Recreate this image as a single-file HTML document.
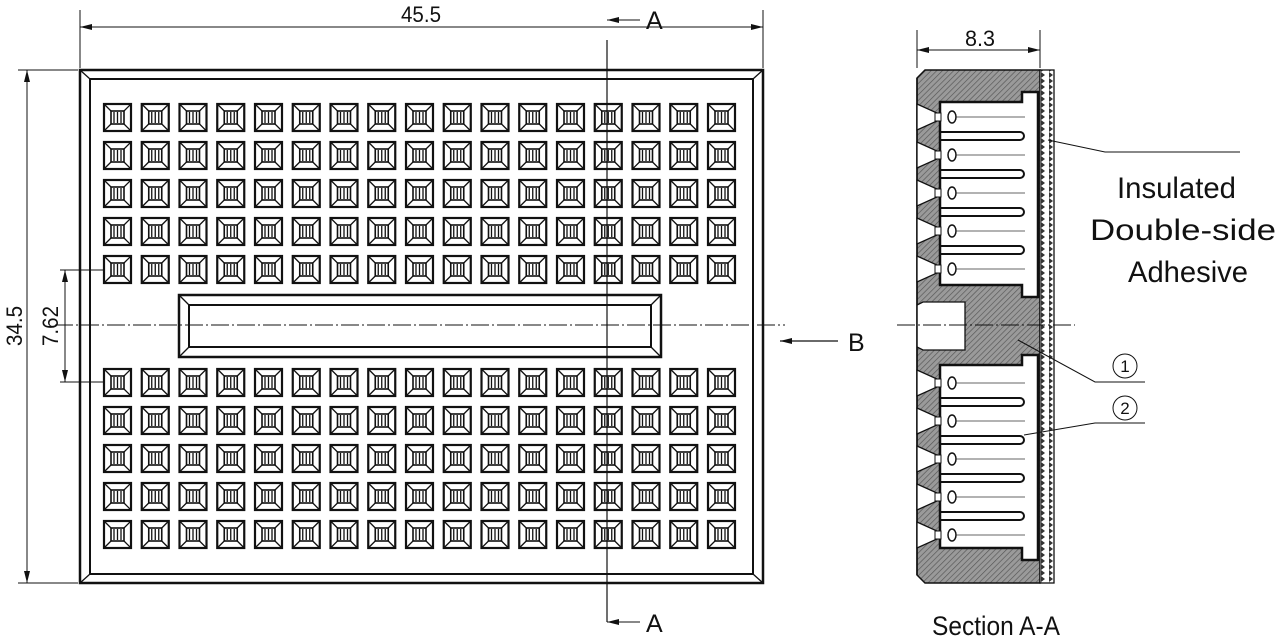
<!DOCTYPE html>
<html><head><meta charset="utf-8"><style>
html,body{margin:0;padding:0;background:#fff}
svg{display:block}
text{font-family:"Liberation Sans",sans-serif;fill:#111}
</style></head><body>
<svg width="1280" height="644" viewBox="0 0 1280 644" xmlns="http://www.w3.org/2000/svg" xmlns:xlink="http://www.w3.org/1999/xlink">
<defs>
<pattern id="h" width="4" height="4" patternUnits="userSpaceOnUse" patternTransform="rotate(45)">
<rect width="4" height="4" fill="#9a9a9a"/><line x1="0" y1="0" x2="0" y2="4" stroke="#555" stroke-width="1.3"/>
</pattern>
<pattern id="ad" width="8" height="6" patternUnits="userSpaceOnUse">
<rect width="8" height="6" fill="#fff"/><path d="M1 0 L5 3 L1 6Z" fill="#333"/>
</pattern>
<g id="hole" fill="none" stroke="#111">
<rect x="0" y="0" width="27" height="27" stroke-width="2.2"/>
<rect x="7" y="7" width="13" height="13" stroke-width="1.6"/>
<path d="M0 0L7 7M27 0L20 7M0 27L7 20M27 27L20 20" stroke-width="1.3"/>
<path d="M10 8V19M13.5 8V19M17 8V19" stroke-width="1.3"/>
</g>
<g id="row">
<use xlink:href="#hole" x="104"/><use xlink:href="#hole" x="141.75"/><use xlink:href="#hole" x="179.5"/><use xlink:href="#hole" x="217.25"/><use xlink:href="#hole" x="255"/><use xlink:href="#hole" x="292.75"/><use xlink:href="#hole" x="330.5"/><use xlink:href="#hole" x="368.25"/><use xlink:href="#hole" x="406"/><use xlink:href="#hole" x="443.75"/><use xlink:href="#hole" x="481.5"/><use xlink:href="#hole" x="519.25"/><use xlink:href="#hole" x="557"/><use xlink:href="#hole" x="594.75"/><use xlink:href="#hole" x="632.5"/><use xlink:href="#hole" x="670.25"/><use xlink:href="#hole" x="708"/>
</g>
<g id="cell">
<path d="M917 -13L937 -4V4L917 13Z" fill="#fff" stroke="#111" stroke-width="1.3"/>
<rect x="935" y="-4" width="6" height="8" fill="#fff" stroke="#111" stroke-width="1"/>
<ellipse cx="952" cy="0" rx="4" ry="6" fill="none" stroke="#111" stroke-width="1.5"/>
<path d="M956 0H1025" stroke="#333" stroke-width="0.8"/>
</g>
<g id="spr"><path d="M941 15H1020A4 4 0 0 1 1020 23H941" fill="none" stroke="#111" stroke-width="2"/></g>
<marker id="ar" markerWidth="12" markerHeight="6" refX="12" refY="3" orient="auto" markerUnits="userSpaceOnUse"><path d="M0 0L12 3L0 6Z" fill="#111"/></marker>
</defs>
<g stroke="#111" fill="none">
<rect x="80" y="70" width="683" height="513" stroke-width="2.5"/>
<rect x="90" y="79" width="663" height="495" stroke-width="2"/>
<path d="M80 70L90 79M763 70L753 79M80 583L90 574M763 583L753 574" stroke-width="1.3"/>
<rect x="179" y="295" width="482" height="62" stroke-width="2.5"/>
<rect x="189" y="305" width="462" height="42" stroke-width="2"/>
<path d="M179 295L189 305M661 295L651 305M179 357L189 347M661 357L651 347" stroke-width="1.3"/>
<path d="M80 10V68M763 10V68" stroke-width="1"/>
<path d="M80 27H763" stroke-width="1" marker-end="url(#ar)"/>
<path d="M763 27H80" stroke-width="1" marker-end="url(#ar)"/>
<path d="M18 70H78M18 583H78" stroke-width="1"/>
<path d="M27 70V583" stroke-width="1" marker-end="url(#ar)"/>
<path d="M27 583V70" stroke-width="1" marker-end="url(#ar)"/>
<path d="M60 270H103M60 382H103" stroke-width="1"/>
<path d="M65 270V382" stroke-width="1" marker-end="url(#ar)"/>
<path d="M65 382V270" stroke-width="1" marker-end="url(#ar)"/>
<path d="M55 325H785" stroke-width="1" stroke-dasharray="18 3 2 3"/>
<path d="M607 40V622" stroke-width="1.2"/>
<path d="M640 20H607" stroke-width="1" marker-end="url(#ar)"/>
<path d="M640 622H607" stroke-width="1" marker-end="url(#ar)"/>
<path d="M838 341H780" stroke-width="1.2" marker-end="url(#ar)"/>
</g>
<use xlink:href="#row" y="104"/><use xlink:href="#row" y="142"/><use xlink:href="#row" y="180"/><use xlink:href="#row" y="218"/><use xlink:href="#row" y="256"/>
<use xlink:href="#row" y="369"/><use xlink:href="#row" y="407"/><use xlink:href="#row" y="445"/><use xlink:href="#row" y="483"/><use xlink:href="#row" y="521"/>
<text x="421" y="22" font-size="22" text-anchor="middle" textLength="40" lengthAdjust="spacingAndGlyphs">45.5</text>
<text x="646" y="29" font-size="25">A</text>
<text x="646" y="632" font-size="25">A</text>
<text x="848" y="351" font-size="25">B</text>
<text transform="translate(22,326) rotate(-90)" font-size="22" text-anchor="middle" textLength="40" lengthAdjust="spacingAndGlyphs">34.5</text>
<text transform="translate(58,326) rotate(-90)" font-size="22" text-anchor="middle" textLength="40" lengthAdjust="spacingAndGlyphs">7.62</text>
<g stroke="#111">
<path d="M925 70H1040V583H925L917 575V78Z" fill="url(#h)" stroke-width="1.5"/>
<rect x="1040" y="70" width="14" height="513" fill="url(#ad)" stroke-width="1.3"/>
<path d="M940 102H1022V92H1038V297H1022V285H940Z" fill="#fff" stroke-width="2.5"/>
<path d="M940 365H1022V355H1038V560H1022V548H940Z" fill="#fff" stroke-width="2.5"/>
<path d="M917 305L923 302H965V350H923L917 347" fill="#fff" stroke-width="1.3"/>
<path d="M917 78V575" fill="none" stroke-width="1.5"/>
</g>
<use xlink:href="#cell" y="117"/><use xlink:href="#cell" y="155"/><use xlink:href="#cell" y="193"/><use xlink:href="#cell" y="231"/><use xlink:href="#cell" y="269"/>
<use xlink:href="#cell" y="383"/><use xlink:href="#cell" y="421"/><use xlink:href="#cell" y="459"/><use xlink:href="#cell" y="497"/><use xlink:href="#cell" y="535"/>
<use xlink:href="#spr" y="117"/><use xlink:href="#spr" y="155"/><use xlink:href="#spr" y="193"/><use xlink:href="#spr" y="231"/>
<use xlink:href="#spr" y="383"/><use xlink:href="#spr" y="421"/><use xlink:href="#spr" y="459"/><use xlink:href="#spr" y="497"/>
<g stroke="#111" fill="none" stroke-width="1">
<path d="M917 30V68M1040 30V68"/>
<path d="M917 50H1040" marker-end="url(#ar)"/><path d="M1040 50H917" marker-end="url(#ar)"/>
<path d="M897 325H1075" stroke-dasharray="18 3 2 3"/>
<path d="M1048 140L1105 152H1240"/>
<path d="M1018 340L1095 382H1145"/>
<path d="M1024 435L1095 423H1145"/>
<circle cx="1125" cy="366" r="12"/>
<circle cx="1125" cy="408" r="12"/>
</g>
<text x="980" y="46" font-size="22" text-anchor="middle" textLength="30" lengthAdjust="spacingAndGlyphs">8.3</text>
<text x="1125" y="372" font-size="17" text-anchor="middle">1</text>
<text x="1125" y="414" font-size="17" text-anchor="middle">2</text>
<text x="1117" y="198" font-size="30" textLength="119" lengthAdjust="spacingAndGlyphs">Insulated</text>
<text x="1090" y="240" font-size="30" textLength="186" lengthAdjust="spacingAndGlyphs">Double-side</text>
<text x="1128" y="282" font-size="30" textLength="120" lengthAdjust="spacingAndGlyphs">Adhesive</text>
<text x="932" y="635" font-size="27" textLength="128" lengthAdjust="spacingAndGlyphs">Section A-A</text>
</svg>
</body></html>
